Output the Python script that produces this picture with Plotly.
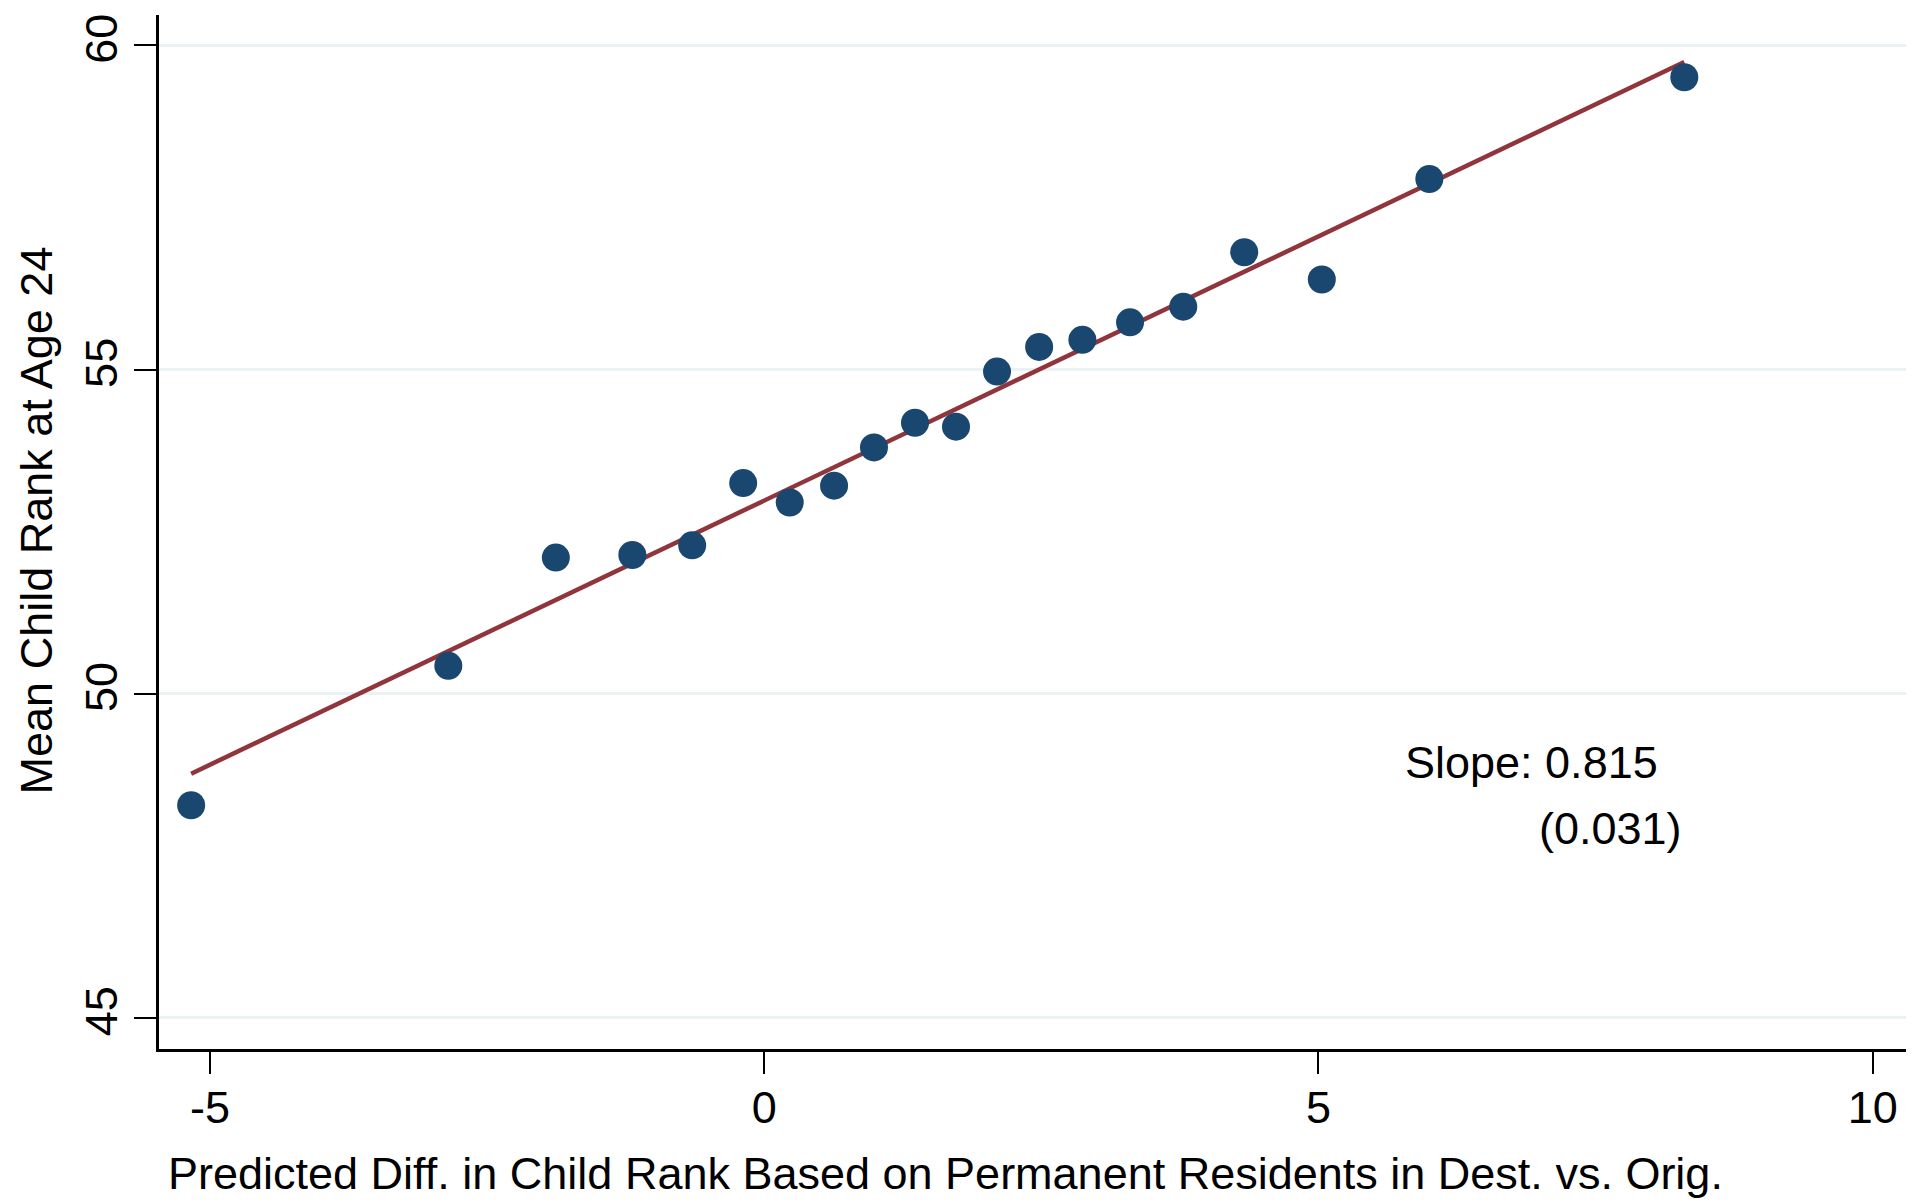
import plotly.graph_objects as go

# Data (binned scatter)
x_vals = [-5.17, -2.85, -1.88, -1.19, -0.65, -0.19, 0.23, 0.63, 0.99, 1.36,
          1.73, 2.10, 2.48, 2.87, 3.30, 3.78, 4.33, 5.03, 6.00, 8.30]
y_vals = [48.28, 50.43, 52.10, 52.14, 52.29, 53.25, 52.95, 53.21, 53.80, 54.18,
          54.12, 54.97, 55.35, 55.46, 55.73, 55.97, 56.81, 56.39, 57.94, 59.51]

slope = 0.815
intercept = 52.98
x_ticks = [-5, 0, 5, 10]
x_tick_labels = ["-5", "0", "5", "10"]
y_ticks = [45, 50, 55, 60]
y_tick_labels = ["45", "50", "55", "60"]
x_title = "Predicted Diff. in Child Rank Based on Permanent Residents in Dest. vs. Orig."
y_title = "Mean Child Rank at Age 24"

fit_x = [min(x_vals), max(x_vals)]
fit_y = [intercept + slope * v for v in fit_x]

FONT = "Liberation Sans, Arial, sans-serif"
FS = 45

fig = go.Figure()
fig.add_trace(go.Scatter(x=fit_x, y=fit_y, mode="lines",
                         line=dict(color="#90353b", width=4.5), showlegend=False))
fig.add_trace(go.Scatter(x=x_vals, y=y_vals, mode="markers",
                         marker=dict(color="#1a476f", size=28, line=dict(width=0)),
                         showlegend=False))

fig.add_annotation(x=5.76, y=48.94, text="Slope: 0.815", showarrow=False,
                   xanchor="left", yanchor="middle", font=dict(size=FS, color="black", family=FONT))
fig.add_annotation(x=8.30, y=47.92, text="(0.031)", showarrow=False,
                   xanchor="right", yanchor="middle", font=dict(size=FS, color="black", family=FONT))

# Axis titles (placed as in the reference, not centred on the plot area)
fig.add_annotation(xref="paper", yref="paper", x=0.4504, y=-0.1205, text=x_title,
                   showarrow=False, xanchor="center", yanchor="middle",
                   font=dict(size=FS, color="black", family=FONT))
fig.add_annotation(xref="paper", yref="paper", x=-0.0700, y=0.5109, text=y_title,
                   textangle=-90, showarrow=False, xanchor="center", yanchor="middle",
                   font=dict(size=FS, color="black", family=FONT))

fig.update_layout(
    width=1921, height=1204,
    margin=dict(l=151, r=23, t=7, b=163, autoexpand=False),
    paper_bgcolor="white", plot_bgcolor="white",
    font=dict(family=FONT, size=FS, color="black"),
    xaxis=dict(range=[-5.46, 10.3], tickvals=x_ticks, ticktext=x_tick_labels,
               showgrid=False, zeroline=False, automargin=False,
               showline=True, linecolor="black", linewidth=2.5,
               ticks="outside", ticklen=22, tickwidth=1.5, tickcolor="black",
               tickfont=dict(size=FS), ticklabelstandoff=-5),
    yaxis=dict(range=[44.52, 60.47], tickvals=y_ticks, ticktext=y_tick_labels,
               showgrid=True, gridcolor="#eaf2f3",
               gridwidth=3, zeroline=False, automargin=False,
               showline=True, linecolor="black", linewidth=2.5,
               ticks="outside", ticklen=22, tickwidth=1.5, tickcolor="black",
               tickangle=-90, tickfont=dict(size=FS), ticklabelstandoff=-1),
)

fig.write_html("out.html")
